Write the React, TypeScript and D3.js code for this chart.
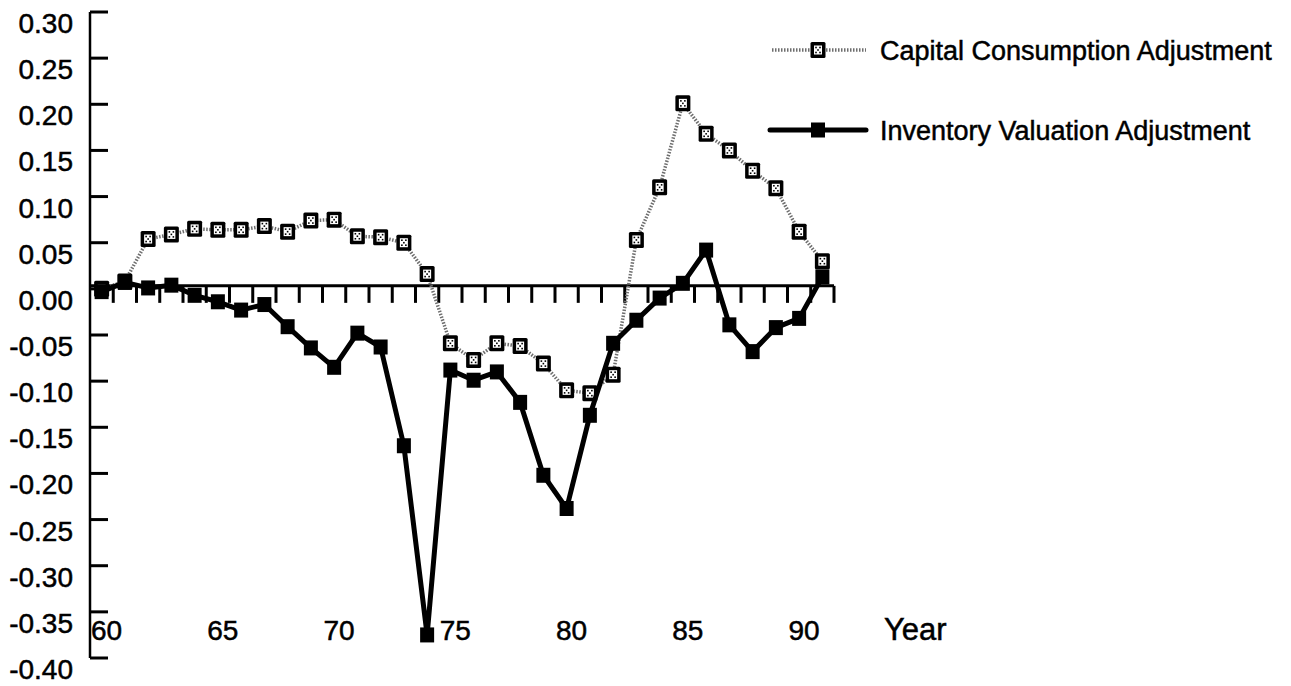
import React from 'react';
import * as d3 from 'd3';

// years 1960..1991, shown as two digits
const years = d3.range(60, 92).map(String);

const capitalConsumption = [
  0.0, 0.008, 0.054, 0.059, 0.065, 0.064, 0.064, 0.068, 0.062, 0.074,
  0.075, 0.057, 0.056, 0.05, 0.016, -0.059, -0.077, -0.059, -0.062, -0.081,
  -0.11, -0.113, -0.093, 0.053, 0.11, 0.201, 0.168, 0.15, 0.128, 0.109,
  0.062, 0.03,
];

const inventoryValuation = [
  -0.003, 0.007, 0.001, 0.004, -0.007, -0.014, -0.023, -0.017, -0.041, -0.064,
  -0.085, -0.048, -0.063, -0.17, -0.375, -0.088, -0.099, -0.09, -0.123, -0.202,
  -0.238, -0.137, -0.059, -0.034, -0.01, 0.006, 0.042, -0.039, -0.068, -0.042,
  -0.032, 0.013,
];

const yTicks = [0.3, 0.25, 0.2, 0.15, 0.1, 0.05, 0, -0.05, -0.1, -0.15, -0.2, -0.25, -0.3, -0.35, -0.4];
const xLabels = ['60', '65', '70', '75', '80', '85', '90'];

const width = 1291;
const height = 686;
const font = '"Liberation Sans", Arial, Helvetica, sans-serif';
const textStyle = { fontFamily: font, stroke: '#000', strokeWidth: 0.5 };

function HatchMarker({ x, y }: { x: number; y: number }) {
  const dots = [[-2, -2.5], [2, -2.5], [0, 0], [-2, 2.5], [2, 2.5]];
  return (
    <g transform={`translate(${x},${y})`}>
      <rect x={-7.5} y={-8} width={15} height={16} fill="#000" rx={1.5} />
      <rect x={-4} y={-4.5} width={8} height={9} fill="#fff" />
      {dots.map((d, i) => (
        <rect key={i} x={d[0] - 0.8} y={d[1] - 0.8} width={1.6} height={1.6} fill="#000" />
      ))}
    </g>
  );
}

function SolidMarker({ x, y }: { x: number; y: number }) {
  return <rect x={x - 7} y={y - 7.5} width={14} height={15} fill="#000" />;
}

export default function App() {
  const x = d3.scaleBand().domain(years).range([90, 834]);
  const y = d3.scaleLinear().domain([-0.4, 0.3]).range([658, 12]);
  const cx = (i: number) => (x(years[i]) as number) + x.bandwidth() / 2;

  const line = d3
    .line<number>()
    .x((d, i) => cx(i))
    .y((d) => y(d));

  const y0 = y(0) - 3;
  const bounds = years.map((d) => (x(d) as number) + x.bandwidth());

  return (
    <svg width={width} height={height} style={{ position: 'absolute', left: 0, top: 0, background: '#fff' }}>
      {/* y axis */}
      <line x1={90} x2={90} y1={y(0.3)} y2={y(-0.4)} stroke="#000" strokeWidth={2.5} />
      {yTicks.map((t) => (
        <g key={t}>
          <line x1={90} x2={108} y1={y(t)} y2={y(t)} stroke="#000" strokeWidth={3} />
          <text x={73} y={y(t) + 21} textAnchor="end" fontSize={28} style={textStyle}>
            {t.toFixed(2)}
          </text>
        </g>
      ))}

      {/* x axis along zero */}
      <line x1={90} x2={834} y1={y0} y2={y0} stroke="#000" strokeWidth={3} />
      {bounds.map((b, i) => (
        <line key={i} x1={b} x2={b} y1={y0} y2={y0 + 17} stroke="#000" strokeWidth={3} />
      ))}
      {xLabels.map((l) => (
        <text key={l} x={(x(l) as number) + 1} y={640} fontSize={28} style={textStyle}>
          {l}
        </text>
      ))}
      <text x={884} y={640} fontSize={31} style={textStyle}>
        Year
      </text>

      {/* capital consumption adjustment */}
      <path
        d={line(capitalConsumption) || ''}
        fill="none"
        stroke="#6e6e6e"
        strokeWidth={3.5}
        strokeDasharray="1.5 1.5"
      />
      {capitalConsumption.map((v, i) => (
        <HatchMarker key={i} x={cx(i)} y={y(v)} />
      ))}

      {/* inventory valuation adjustment */}
      <path
        d={line(inventoryValuation) || ''}
        fill="none"
        stroke="#000"
        strokeWidth={5}
        strokeLinejoin="round"
      />
      {inventoryValuation.map((v, i) => (
        <SolidMarker key={i} x={cx(i)} y={y(v)} />
      ))}

      {/* legend */}
      <line x1={772} x2={866} y1={50} y2={50} stroke="#6e6e6e" strokeWidth={3.5} strokeDasharray="1.5 1.5" />
      <HatchMarker x={818} y={50} />
      <text x={880} y={60} fontSize={27} style={textStyle}>
        Capital Consumption Adjustment
      </text>
      <line x1={770} x2={866} y1={130} y2={130} stroke="#000" strokeWidth={5} strokeLinecap="round" />
      <SolidMarker x={818} y={130} />
      <text x={880} y={140} fontSize={27} style={textStyle}>
        Inventory Valuation Adjustment
      </text>
    </svg>
  );
}
